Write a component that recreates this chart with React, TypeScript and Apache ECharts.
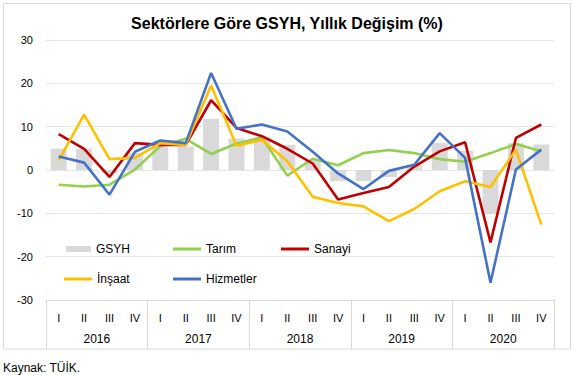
import React, { useEffect, useRef } from "react";
import * as echarts from "echarts";

const quarterLabels = ["I", "II", "III", "IV", "I", "II", "III", "IV", "I", "II", "III", "IV", "I", "II", "III", "IV", "I", "II", "III", "IV"];
const years = ["2016", "2017", "2018", "2019", "2020"];

const gsyh = [4.9, 4.9, -0.8, 4.0, 5.4, 5.4, 11.8, 7.3, 7.5, 5.8, 2.3, -2.6, -2.6, -1.6, 1.1, 6.3, 4.4, -10.2, 6.2, 5.9];
const tarim = [-3.4, -3.8, -3.4, 0.1, 5.5, 7.2, 3.7, 6.1, 7.5, -1.3, 2.6, 1.1, 3.9, 4.6, 3.9, 2.5, 1.9, 3.9, 6.0, 4.3];
const sanayi = [8.3, 4.9, -1.6, 6.2, 5.8, 5.8, 16.1, 9.7, 7.8, 4.9, 1.5, -6.8, -5.3, -3.9, 0.8, 4.3, 6.4, -16.7, 7.4, 10.5];
const insaat = [2.2, 12.8, 2.5, 2.8, 6.2, 5.8, 19.5, 5.6, 7.0, 2.0, -6.2, -7.6, -8.4, -11.8, -9.0, -4.9, -2.6, -3.9, 4.7, -12.6];
const hizmetler = [3.1, 1.7, -5.7, 4.2, 6.8, 6.2, 22.4, 9.5, 10.5, 8.9, 4.2, -0.8, -4.4, -0.2, 1.2, 8.5, 2.8, -26.0, 0.1, 4.7];

const FONT = "'Liberation Sans', Arial, sans-serif";

export default function App() {
  const ref = useRef<HTMLDivElement>(null);
  useEffect(() => {
    document.body.style.margin = "0";
    if (!ref.current) return;
    const chart = echarts.init(ref.current, null, { renderer: "svg" });
    const legendText = { fontSize: 12, color: "#000", fontFamily: FONT, lineHeight: 14 };
    const mkLegend = (name: string, left: number, top: number, bar: boolean) => ({
      data: [name],
      left,
      top,
      padding: 0,
      icon: "rect",
      itemWidth: bar ? 25 : 28,
      itemHeight: bar ? 6 : 3,
      textStyle: legendText,
      selectedMode: false,
    });
    const lineSeries = (name: string, data: number[], color: string) => ({
      name,
      type: "line",
      data,
      symbol: "none",
      smooth: false,
      lineStyle: { color, width: 2.6 },
      itemStyle: { color },
    });
    chart.setOption({
      animation: false,
      textStyle: { fontFamily: FONT },
      title: {
        text: "Sektörlere Göre GSYH, Yıllık Değişim (%)",
        left: "center",
        top: 15,
        padding: 0,
        textStyle: { fontSize: 16, fontWeight: "bold", color: "#000", fontFamily: FONT },
      },
      grid: { left: 46, right: 20, top: 40, bottom: 75, containLabel: false },
      legend: [
        mkLegend("GSYH", 66, 242, true),
        mkLegend("Tarım", 173, 242, false),
        mkLegend("Sanayi", 281, 242, false),
        mkLegend("İnşaat", 64, 272, false),
        mkLegend("Hizmetler", 173, 272, false),
      ],
      xAxis: [
        {
          type: "category",
          data: quarterLabels,
          position: "bottom",
          axisLine: { show: true, onZero: false, lineStyle: { color: "#d9d9d9", width: 1 } },
          axisTick: { show: false },
          axisLabel: { margin: 12, fontSize: 11, color: "#000", fontFamily: FONT, interval: 0 },
        },
        {
          type: "category",
          data: years,
          position: "bottom",
          axisLine: { show: false, onZero: false },
          axisTick: { show: true, length: 49, interval: 0, lineStyle: { color: "#d9d9d9", width: 1 } },
          axisLabel: { margin: 33, fontSize: 12, color: "#000", fontFamily: FONT, interval: 0 },
        },
      ],
      yAxis: {
        type: "value",
        min: -30,
        max: 30,
        interval: 10,
        axisLine: { show: false },
        axisTick: { show: false },
        axisLabel: { margin: 13, fontSize: 11, color: "#000", fontFamily: FONT },
        splitLine: { lineStyle: { color: "#e6e6e6", width: 1 } },
      },
      graphic: [
        {
          type: "rect",
          shape: { x: 3.5, y: 3.5, width: 567, height: 345.5 },
          style: { fill: "none", stroke: "#d9d9d9", lineWidth: 1 },
          silent: true,
        },
        {
          type: "text",
          left: 3,
          top: 362,
          style: { text: "Kaynak: TÜİK.", fill: "#000", font: `12px ${FONT}` },
        },
      ],
      series: [
        {
          name: "GSYH",
          type: "bar",
          data: gsyh,
          barWidth: 16,
          itemStyle: { color: "#d9d9d9" },
        },
        lineSeries("Tarım", tarim, "#92d050"),
        lineSeries("Sanayi", sanayi, "#c00000"),
        lineSeries("İnşaat", insaat, "#ffc000"),
        lineSeries("Hizmetler", hizmetler, "#4472c4"),
      ],
    });
    return () => chart.dispose();
  }, []);
  return <div ref={ref} style={{ width: 574, height: 375 }} />;
}
